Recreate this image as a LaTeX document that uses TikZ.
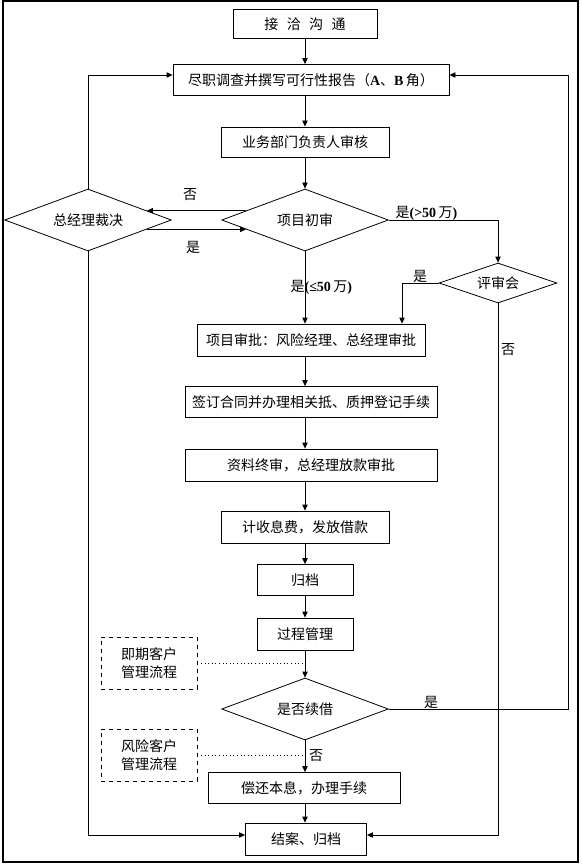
\documentclass[tikz,border=0pt]{standalone}
\usepackage{fontspec}
\newfontfamily\cjk{Noto Sans CJK SC}
\newfontfamily\lat{Liberation Serif}
\usetikzlibrary{shapes.geometric,arrows.meta}
\begin{document}
\begin{tikzpicture}[x=0.75pt, y=-0.75pt,
    every node/.style={font=\cjk\fontsize{10.5pt}{14pt}\selectfont},
    stepbox/.style={draw, line width=0.6pt, inner sep=1pt},
    choice/.style={draw, diamond, aspect=2.7, line width=0.6pt, inner sep=0pt, minimum width=125pt, minimum height=46.5pt},
    sidebox/.style={draw, dashed, line width=0.6pt, minimum width=72pt, minimum height=39pt, align=center},
    flow/.style={-{Triangle[length=4.5pt,width=4pt]}, line width=0.6pt},
    link/.style={dotted, line width=0.7pt}]
            \useasboundingbox (0,0) rectangle (581,866);
            \draw[line width=0.8pt] (3,1) rectangle (578,862);
            % main column
            \node[stepbox, minimum width=108pt, minimum height=21.75pt] (talk) at (305,24) {接\hspace{0.6em}洽\hspace{0.6em}沟\hspace{0.6em}通};
            \node[stepbox, minimum width=207pt, minimum height=23.25pt] (survey) at (311,80) {尽职调查并撰写可行性报告（{\lat\bfseries A}、{\lat\bfseries B}\,角）};
            \node[stepbox, minimum width=126pt, minimum height=22.5pt] (dept) at (305,142) {业务部门负责人审核};
            \node[choice] (first) at (305,220) {项目初审};
            \node[choice] (ceo) at (88,220) {总经理裁决};
            \node[choice, minimum width=88.5pt, minimum height=30pt] (panel) at (498,283) {评审会};
            \node[stepbox, minimum width=171pt, minimum height=24pt] (approve) at (311,340) {项目审批：风险经理、总经理审批};
            \node[stepbox, minimum width=189pt, minimum height=23.25pt] (sign) at (311,402) {签订合同并办理相关抵、质押登记手续};
            \node[stepbox, minimum width=189pt, minimum height=24pt] (final) at (311,465) {资料终审，总经理放款审批};
            \node[stepbox, minimum width=126pt, minimum height=24pt] (fee) at (305,527) {计收息费，发放借款};
            \node[stepbox, minimum width=72pt, minimum height=23.25pt] (file) at (305,580) {归档};
            \node[stepbox, minimum width=72pt, minimum height=24pt] (manage) at (305,634) {过程管理};
            \node[sidebox] (due) at (149,663) {即期客户\\管理流程};
            \node[choice] (renew) at (305,709) {是否续借};
            \node[sidebox] (risk) at (149,755) {风险客户\\管理流程};
            \node[stepbox, minimum width=144pt, minimum height=23.25pt] (repay) at (304,788) {偿还本息，办理手续};
            \node[stepbox, minimum width=90.75pt, minimum height=24pt] (close) at (306,839) {结案、归档};
            % straight flow
            \draw[flow] (talk.south) -- (talk.south |- survey.north);
            \draw[flow] (talk |- survey.south) -- (dept.north);
            \draw[flow] (dept.south) -- (first.north);
            \draw[flow] (first.south) -- (talk |- approve.north);
            \draw[flow] (talk |- approve.south) -- (talk |- sign.north);
            \draw[flow] (talk |- sign.south) -- (talk |- final.north);
            \draw[flow] (talk |- final.south) -- (fee.north);
            \draw[flow] (fee.south) -- (file.north);
            \draw[flow] (file.south) -- (manage.north);
            \draw[flow] (manage.south) -- (renew.north);
            \draw[flow] (renew.south) -- (talk |- repay.north);
            \draw[flow] (talk |- repay.south) -- (talk |- close.north);
            % general manager decision
            \draw[flow] (first.171) -- (ceo.9);
            \draw[flow] (ceo.-9) -- (first.189);
            \node (no1) at (190,195) {否};
            \node (yes1) at (193,247) {是};
            \draw[flow] (ceo.north) |- ([yshift=3.75pt]survey.west);
            \draw[flow] (ceo.south) |- ([yshift=3pt]close.west);
            % review panel
            \draw[flow] (first.east) -| (panel.north);
            \node[anchor=west, inner sep=1pt] (big) at (394,213) {是{\lat\bfseries(>50}\,万{\lat\bfseries)}};
            \node[anchor=west, inner sep=1pt] (small) at (289,287) {是{\lat\bfseries(≤50}\,万{\lat\bfseries)}};
            \draw[flow] (panel.west) -| ([xshift=68.25pt]approve.north);
            \node (yes2) at (420,276) {是};
            \draw[flow] (panel.south) |- ([yshift=3pt]close.east);
            \node (no2) at (508,350) {否};
            % renewal loop
            \coordinate (back) at (568,709);
            \draw[flow] (renew.east) -- (back) |- ([yshift=3.75pt]survey.east);
            \node (yes3) at (431,702) {是};
            \node (no3) at (316,756) {否};
            % side processes
            \draw[link] (due.east) -- (due.east -| talk);
            \draw[link] (risk.east) -- (risk.east -| talk);
        \end{tikzpicture}
\end{document}
